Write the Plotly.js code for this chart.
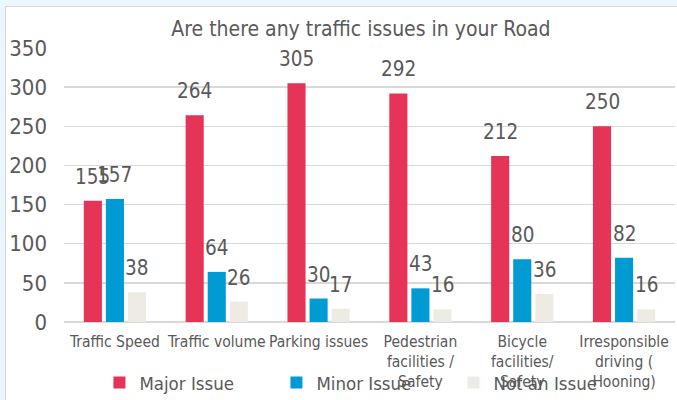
<!DOCTYPE html>
<html>
<head>
<meta charset="utf-8">
<script src="https://cdn.plot.ly/plotly-3.0.1.min.js"></script>
<style>
  html, body { margin: 0; padding: 0; background: #EAF7FD; width: 677px; height: 400px; overflow: hidden; }
  #frame { position: absolute; left: 5px; top: 6px; width: 672px; height: 394px; border-left: 1px solid #D6D6D6; border-top: 1px solid #D6D6D6; background: #fff; }
  #chart { width: 672px; height: 394px; }
</style>
</head>
<body>
<div id="frame"><div id="chart"></div></div>
<script>
const categories = ["Traffic Speed", "Traffic volume", "Parking issues", "Pedestrian<br>facilities /<br>Safety", "Bicycle<br>facilities/<br>Safety", "Irresponsible<br>driving (<br>Hooning)"];
const majorIssue = [155, 264, 305, 292, 212, 250];
const minorIssue = [157, 64, 30, 43, 80, 82];
const notAnIssue = [38, 26, 17, 16, 36, 16];
const seriesNames = ["Major Issue", "Minor Issue", "Not an Issue"];
const yTicks = [0, 50, 100, 150, 200, 250, 300, 350];

const FONT = "'DejaVu Sans Condensed', 'DejaVu Sans', sans-serif";
const GREY = "#595959";
const colors = ["#E63456", "#009BD3", "#EEEBE5"];
const seriesData = [majorIssue, minorIssue, notAnIssue];

const traces = seriesData.map((vals, i) => ({
  type: "bar",
  name: seriesNames[i],
  x: categories,
  y: vals,
  marker: { color: colors[i] },
  hoverinfo: "x+y+name"
}));

const offsets = [-22, 0, 22];
const annotations = [];
seriesData.forEach((vals, i) => {
  vals.forEach((v, j) => {
    annotations.push({
      x: categories[j], y: v, xref: "x", yref: "y",
      text: String(v), showarrow: false,
      xshift: offsets[i], yshift: 24, yanchor: "middle",
      font: { family: FONT, size: 20.5, color: GREY }
    });
  });
});

const layout = {
  width: 672, height: 394,
  margin: { l: 58, r: 3, t: 41, b: 79, autoexpand: false },
  paper_bgcolor: "#ffffff",
  plot_bgcolor: "#ffffff",
  font: { family: FONT, color: GREY },
  title: {
    text: "Are there any traffic issues in your Road",
    font: { family: FONT, size: 21, color: GREY },
    x: 0.486, xref: "paper", xanchor: "center",
    y: 0.945, yref: "container", yanchor: "middle"
  },
  barmode: "group",
  bargap: 0.35,
  bargroupgap: 0.18,
  xaxis: {
    type: "category",
    tickangle: 0,
    tickfont: { family: FONT, size: 15.5, color: GREY },
    showgrid: false, showline: false, zeroline: false,
    ticks: "", ticklabelstandoff: 8, fixedrange: true
  },
  yaxis: {
    range: [0, 350],
    tickvals: yTicks,
    tickfont: { family: FONT, size: 22, color: GREY },
    showgrid: true, gridcolor: "#D9D9D9", gridwidth: 1.5,
    zeroline: true, zerolinecolor: "#D9D9D9", zerolinewidth: 1.5,
    showline: false, ticks: "", ticklabelstandoff: 16, fixedrange: true
  },
  showlegend: true,
  legend: {
    orientation: "h",
    x: 0.058, xanchor: "left",
    yref: "container", y: 0.046, yanchor: "middle",
    font: { family: FONT, size: 18.5, color: GREY },
    entrywidth: 132, entrywidthmode: "pixels",
    bgcolor: "rgba(0,0,0,0)"
  },
  annotations: annotations
};

Plotly.newPlot("chart", traces, layout, { displayModeBar: false, staticPlot: true });
</script>
</body>
</html>
